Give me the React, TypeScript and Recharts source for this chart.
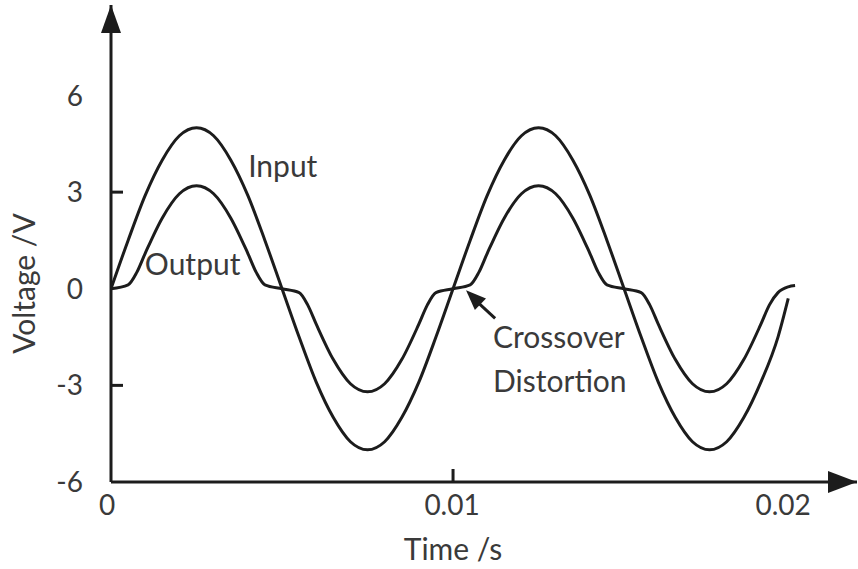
import { LineChart, Line, XAxis, YAxis, ReferenceDot, ReferenceLine } from 'recharts'

// values (time in s, voltage in V)
const inputTime = [
  0, 0.0005, 0.001, 0.0015, 0.002, 0.0025, 0.003, 0.0035, 0.004, 0.0045,
  0.005, 0.0055, 0.006, 0.0065, 0.007, 0.0075, 0.008, 0.0085, 0.009, 0.0095,
  0.01, 0.0105, 0.011, 0.0115, 0.012, 0.0125, 0.013, 0.0135, 0.014, 0.0145,
  0.015, 0.0155, 0.016, 0.0165, 0.017, 0.0175, 0.018, 0.0185, 0.019, 0.0195, 0.0198,
]
const inputVolts = [
  0, 1.5, 2.9, 4.0, 4.75, 5.0, 4.75, 4.0, 2.9, 1.5,
  0, -1.5, -2.9, -4.0, -4.75, -5.0, -4.75, -4.0, -2.9, -1.5,
  0, 1.5, 2.9, 4.0, 4.75, 5.0, 4.75, 4.0, 2.9, 1.5,
  0, -1.5, -2.9, -4.0, -4.75, -5.0, -4.75, -4.0, -2.9, -1.5, -0.3,
]
// output is sampled more finely around the crossover flats
const outputTime = [
  0, 0.0005, 0.00075, 0.001, 0.0015, 0.002, 0.0025, 0.003, 0.0035, 0.004, 0.00425, 0.0045,
  0.005, 0.0055, 0.00575, 0.006, 0.0065, 0.007, 0.0075, 0.008, 0.0085, 0.009, 0.00925, 0.0095,
  0.01, 0.0105, 0.01075, 0.011, 0.0115, 0.012, 0.0125, 0.013, 0.0135, 0.014, 0.01425, 0.0145,
  0.015, 0.0155, 0.01575, 0.016, 0.0165, 0.017, 0.0175, 0.018, 0.0185, 0.019, 0.01925, 0.0195,
  0.0198, 0.02,
]
const outputVolts = [
  0, 0.12, 0.5, 1.1, 2.2, 2.95, 3.2, 2.95, 2.2, 1.1, 0.5, 0.12,
  0, -0.12, -0.5, -1.1, -2.2, -2.95, -3.2, -2.95, -2.2, -1.1, -0.5, -0.12,
  0, 0.12, 0.5, 1.1, 2.2, 2.95, 3.2, 2.95, 2.2, 1.1, 0.5, 0.12,
  0, -0.12, -0.5, -1.1, -2.2, -2.95, -3.2, -2.95, -2.2, -1.1, -0.5, -0.12,
  0.06, 0.1,
]

const yTicks = [-6, -3, 0, 3, 6]
const yTickMarks = [-3, 3]
const xTicks = [0, 0.01, 0.02]
const xTickLabels = ['0', '0.01', '0.02']
const xTickMarks = [0.01]

const inputData = inputTime.map((t, i) => ({ t, v: inputVolts[i] }))
const outputData = outputTime.map((t, i) => ({ t, v: outputVolts[i] }))

const INK = '#1c1c1c'
const TEXT = '#3a3a3a'
const FONT = 'Lato, "Open Sans", sans-serif'

function YTick({ x, y, payload }: any) {
  const v = payload.value
  return (
    <g>
      {yTickMarks.includes(v) && <line x1={x} x2={x + 12} y1={y} y2={y} stroke={INK} strokeWidth={3} />}
      <text x={x - 28} y={y} dy={10} textAnchor="end" fontSize={28} fontFamily={FONT} fill={TEXT}>
        {v}
      </text>
    </g>
  )
}

function XTick({ x, y, payload }: any) {
  const v = payload.value
  const i = xTicks.indexOf(v)
  // the last label sits a bit left of its tick in the reference
  const dx = i === 0 ? -4 : i === 2 ? -12 : -1
  return (
    <g>
      {xTickMarks.includes(v) && <line x1={x} x2={x} y1={y} y2={y - 13} stroke={INK} strokeWidth={3} />}
      <text x={x + dx} y={y + 33} textAnchor="middle" fontSize={28} fontFamily={FONT} fill={TEXT}>
        {xTickLabels[i]}
      </text>
    </g>
  )
}

const note = (label: string) => (p: any) => (
  <text x={p.cx} y={p.cy} fontSize={30} fontFamily={FONT} fill={TEXT}>
    {label}
  </text>
)

export default function App() {
  return (
    <div style={{ position: 'absolute', left: 0, top: 0 }}>
      <LineChart width={858} height={569} margin={{ top: 5, right: 1, bottom: 0, left: 0 }}>
        <XAxis
          dataKey="t"
          type="number"
          domain={[0, 0.02181]}
          ticks={xTicks}
          allowDataOverflow
          height={87}
          tickSize={0}
          tickMargin={0}
          tickLine={false}
          axisLine={{ stroke: INK, strokeWidth: 3 }}
          tick={<XTick />}
          label={{
            content: ({ viewBox }: any) => (
              <text
                x={viewBox.x + 342}
                y={viewBox.y + 78}
                textAnchor="middle"
                fontSize={30}
                fontFamily={FONT}
                fill={TEXT}
              >
                Time /s
              </text>
            ),
          }}
        />
        <YAxis
          type="number"
          domain={[-6, 8.81]}
          ticks={yTicks}
          allowDataOverflow
          width={111}
          tickSize={0}
          tickMargin={0}
          tickLine={false}
          axisLine={{ stroke: INK, strokeWidth: 3 }}
          tick={<YTick />}
          label={{
            content: ({ viewBox }: any) => {
              const cx = viewBox.x + 35
              const cy = viewBox.y + viewBox.height / 2 + 40
              return (
                <text
                  x={cx}
                  y={cy}
                  transform={`rotate(-90 ${cx} ${cy})`}
                  textAnchor="middle"
                  fontSize={30}
                  fontFamily={FONT}
                  fill={TEXT}
                >
                  Voltage /V
                </text>
              )
            },
          }}
        />

        <Line data={inputData} dataKey="v" type="monotone" stroke={INK} strokeWidth={3} dot={false} isAnimationActive={false} />
        <Line data={outputData} dataKey="v" type="monotone" stroke={INK} strokeWidth={3} dot={false} isAnimationActive={false} />

        {/* axis arrow heads */}
        <ReferenceDot
          x={0.02181}
          y={-6}
          ifOverflow="visible"
          shape={(p: any) => (
            <polygon points={`${p.cx},${p.cy} ${p.cx - 29},${p.cy - 11} ${p.cx - 29},${p.cy + 11}`} fill={INK} />
          )}
        />
        <ReferenceDot
          x={0}
          y={8.81}
          ifOverflow="visible"
          shape={(p: any) => (
            <polygon points={`${p.cx},${p.cy} ${p.cx - 10},${p.cy + 28} ${p.cx + 10},${p.cy + 28}`} fill={INK} />
          )}
        />

        {/* annotations */}
        <ReferenceDot x={0.00401} y={3.46} ifOverflow="visible" shape={note('Input')} />
        <ReferenceDot x={0.00099} y={0.42} ifOverflow="visible" shape={note('Output')} />
        <ReferenceDot x={0.01117} y={-1.85} ifOverflow="visible" shape={note('Crossover')} />
        <ReferenceDot x={0.01117} y={-3.21} ifOverflow="visible" shape={note('Distortion')} />
        <ReferenceLine
          segment={[{ x: 0.01123, y: -0.92 }, { x: 0.01055, y: -0.25 }]}
          stroke={INK}
          strokeWidth={3}
          ifOverflow="visible"
        />
        <ReferenceDot
          x={0.01038}
          y={-0.05}
          ifOverflow="visible"
          shape={(p: any) => (
            <polygon
              points={`${p.cx},${p.cy} ${p.cx - 20},${p.cy - 8} ${p.cx - 20},${p.cy + 8}`}
              transform={`rotate(-136 ${p.cx} ${p.cy})`}
              fill={INK}
            />
          )}
        />
      </LineChart>
    </div>
  )
}
